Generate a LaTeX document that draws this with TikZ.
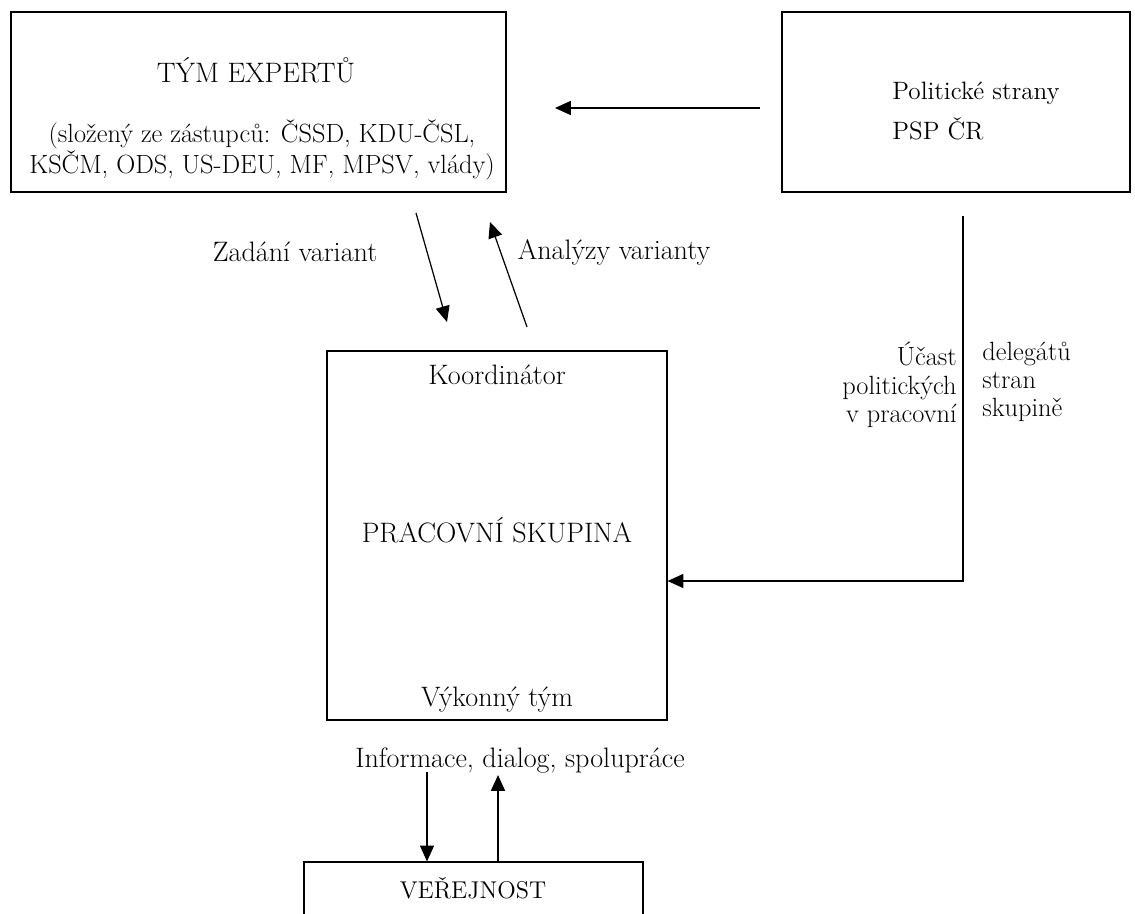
\documentclass[tikz,border=0pt]{standalone}
\usepackage{fontspec}
\usepackage{tikz}
\usetikzlibrary{arrows.meta}

\begin{document}
\begin{tikzpicture}[>={Triangle[length=9pt,width=8pt]},x=0.02cm,y=-0.02cm,
  box/.style={draw,line width=0.7pt,inner sep=0pt},
  txt/.style={font=\fontsize{16}{13.5}\selectfont,inner sep=0pt},
  side/.style={txt,font=\fontsize{15}{16}\selectfont},
  arr/.style={->,line width=0.7pt}]
  \clip (0,0) rectangle (1135,913);

  % Boxes
  \node[box,minimum width=9.9cm,minimum height=3.6cm] (expert) at (258.5,102) {};
  \node[box,minimum width=6.96cm,minimum height=3.6cm] (party) at (956,102) {};
  \node[box,minimum width=6.8cm,minimum height=7.38cm] (work) at (497,535.5) {};
  \node[box,minimum width=6.78cm,minimum height=2cm] (public) at (473.5,912) {};

  % Texts in the boxes
  \node[txt] (experttitle) at (256,70) {TÝM EXPERTŮ};
  \node[txt,font=\fontsize{15}{14}\selectfont,align=center] (expertnote) at (262,150) {(složený ze zástupců: ČSSD, KDU-ČSL,\\KSČM, ODS, US-DEU, MF, MPSV, vlády)};
  \node[txt,font=\fontsize{14.3}{14}\selectfont,align=left,anchor=west] (partytext) at (892,111) {Politické strany\\[7pt]PSP ČR};
  \node[txt] (coord) at (497,375) {Koordinátor};
  \node[txt] (worktitle) at (497,530) {PRACOVNÍ SKUPINA};
  \node[txt] (exec) at (497,700) {Výkonný tým};
  \node[txt,font=\fontsize{13.8}{14}\selectfont] (publictext) at (473,888) {VEŘEJNOST};

  % Labels
  \node[txt] (zadani) at (295,252) {Zadání variant};
  \node[txt] (analyzy) at (614,252) {Analýzy varianty};
  \node[side,align=right,anchor=north east] (delleft) at (957,342) {Účast\\politických\\v pracovní};
  \node[side,align=left,anchor=north west] (delright) at (982,342) {delegátů\\stran\\skupině};
  \node[txt] (info) at (520,760) {Informace, dialog, spolupráce};

  % Connectors
  \coordinate (pol1) at (760,108);
  \coordinate (pol2) at (555,108);
  \draw[arr] (pol1) -- (pol2);

  \coordinate (zad1) at (416,213);
  \coordinate (zad2) at (447,322);
  \draw[arr] (zad1) -- (zad2);
  \coordinate (ana1) at (527,327);
  \coordinate (ana2) at (490,222);
  \draw[arr] (ana1) -- (ana2);

  \coordinate (del1) at (963,216);
  \coordinate (del2) at (963,581);
  \draw[arr] (del1) -- (del2) -- (del2 -| work.east);

  \coordinate (inf1) at (427,772);
  \coordinate (inf2) at (498,775);
  \draw[arr] (inf1) -- (inf1 |- public.north);
  \draw[arr] (inf2 |- public.north) -- (inf2);
\end{tikzpicture}
\end{document}
